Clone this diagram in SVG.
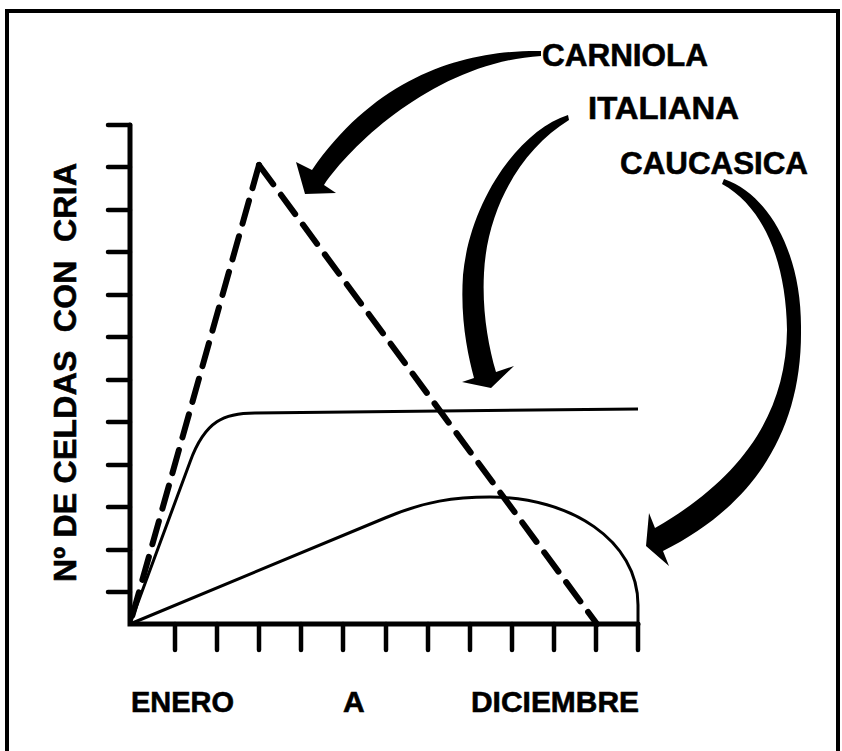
<svg xmlns="http://www.w3.org/2000/svg" width="842" height="751" viewBox="0 0 842 751">
<style>
.lbl{font-family:"Liberation Sans",Arial,sans-serif;font-weight:bold;fill:#000;stroke:#000;stroke-width:0.6}
.ax{stroke:#000;stroke-width:5;fill:none;stroke-linecap:round}
.tk{stroke:#000;stroke-width:4.5;fill:none;stroke-linecap:round}
.curve{stroke:#000;stroke-width:3;fill:none;stroke-linejoin:round}
.dash{stroke:#000;stroke-width:6;fill:none;stroke-dasharray:24 13;stroke-linecap:round}
.arrow{fill:#000;stroke:none}
</style>
<rect x="0" y="0" width="842" height="751" fill="#fff"/>
<rect x="7" y="11" width="831" height="760" fill="none" stroke="#000" stroke-width="4"/>
<g id="axes">
<path class="ax" d="M130,125 L130,624 L638,624"/>
<g id="y-ticks">
<path class="tk" d="M108,125H130M108,167H130M108,210H130M108,252H130M108,295H130M108,337H130M108,380H130M108,422H130M108,465H130M108,507H130M108,550H130M108,592H130"/>
</g>
<g id="x-ticks">
<path class="tk" d="M175,624V650M217,624V650M259,624V650M301,624V650M343,624V650M386,624V650M428,624V650M470,624V650M512,624V650M554,624V650M596,624V650M638,624V650"/>
</g>
</g>
<g id="carniola-line">
<path class="dash" d="M259,165 L130,624"/>
<path class="dash" d="M259,165 L597,624"/>
</g>
<g id="italiana-line">
<path class="curve" d="M130,624 L190,462 C205,420 225,413 255,413 L638,409"/>
</g>
<g id="caucasica-line">
<path class="curve" d="M130,624 L385,518 C425,501 455,497 490,497 C570,497 638,540 638,605 L638,624"/>
</g>
<g id="connectors">
<path class="arrow" d="M541,51 C470,50 380,72 312,170 L296,162 L305,194 L336,193 L324,185 C355,140 440,62 541,56 Z"/>
<path class="arrow" d="M568,115 C520,130 470,200 463,275 C460,320 468,355 474,378 L462,382 L491,388 L514,366 L496,372 C488,345 482,310 484,273 C487,210 520,150 569,120 Z"/>
<path class="arrow" d="M724,179 C770,195 802,255 801,330 C802,430 755,505 663,551 L669,566 L646,546 L649,513 L655,528 C735,482 786,420 787,330 C786,262 764,207 722,184 Z"/>
</g>
<g id="carniola-label"><text class="lbl" x="542" y="66" font-size="32" textLength="166" lengthAdjust="spacingAndGlyphs">CARNIOLA</text></g>
<g id="italiana-label"><text class="lbl" x="588" y="119" font-size="32" textLength="151" lengthAdjust="spacingAndGlyphs">ITALIANA</text></g>
<g id="caucasica-label"><text class="lbl" x="620" y="174" font-size="32" textLength="188" lengthAdjust="spacingAndGlyphs">CAUCASICA</text></g>
<g id="y-label"><text class="lbl" transform="translate(76,582) rotate(-90)" x="0" y="0" font-size="32" textLength="419" lengthAdjust="spacing" style="white-space:pre">Nº DE CELDAS  CON  CRIA</text></g>
<g id="x-labels">
<text class="lbl" x="131" y="712" font-size="30" textLength="103" lengthAdjust="spacingAndGlyphs">ENERO</text>
<text class="lbl" x="343" y="712" font-size="30">A</text>
<text class="lbl" x="471" y="712" font-size="30" textLength="168" lengthAdjust="spacingAndGlyphs">DICIEMBRE</text>
</g>
</svg>
